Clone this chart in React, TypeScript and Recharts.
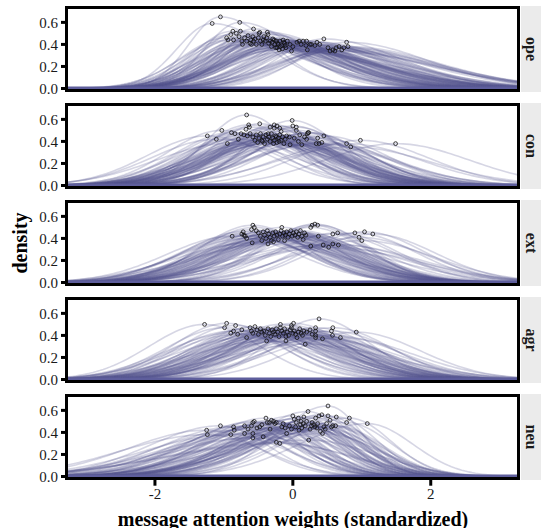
import { ComposedChart, Line, Scatter, XAxis, YAxis, ReferenceLine } from "recharts";

// one panel per trait, peaks of each density curve (mode, density at mode)
const traits = ["ope", "con", "ext", "agr", "neu"];

const opePeaks = [
  [-1.05, 0.65], [-1.17, 0.59], [-0.77, 0.6], [-0.57, 0.54], [-0.87, 0.52], [-0.9, 0.49],
  [-0.96, 0.46], [-0.94, 0.44], [-0.86, 0.44], [-0.82, 0.5], [-0.78, 0.47], [-0.76, 0.52],
  [-0.74, 0.43], [-0.73, 0.4], [-0.7, 0.46], [-0.67, 0.43], [-0.65, 0.48], [-0.61, 0.44],
  [-0.6, 0.4], [-0.57, 0.43], [-0.55, 0.45], [-0.53, 0.4], [-0.5, 0.46], [-0.49, 0.5],
  [-0.48, 0.51], [-0.47, 0.43], [-0.45, 0.4], [-0.43, 0.44], [-0.4, 0.43], [-0.38, 0.46],
  [-0.37, 0.51], [-0.36, 0.49], [-0.33, 0.43], [-0.31, 0.38], [-0.29, 0.45], [-0.26, 0.4],
  [-0.24, 0.43], [-0.23, 0.37], [-0.21, 0.4], [-0.2, 0.35], [-0.19, 0.43], [-0.16, 0.39],
  [-0.14, 0.44], [-0.12, 0.41], [-0.1, 0.37], [-0.08, 0.43], [-0.04, 0.4], [-0.02, 0.34],
  [0.0, 0.38], [0.06, 0.42], [0.09, 0.43], [0.12, 0.4], [0.15, 0.43], [0.19, 0.39],
  [0.21, 0.35], [0.25, 0.4], [0.27, 0.4], [0.32, 0.39], [0.39, 0.4], [0.45, 0.45],
  [0.51, 0.37], [0.54, 0.34], [0.58, 0.35], [0.61, 0.34], [0.63, 0.37], [0.67, 0.38],
  [0.71, 0.35], [0.74, 0.37], [0.78, 0.42], [0.8, 0.38], [-0.3, 0.42], [-0.27, 0.44],
  [-0.22, 0.41], [-0.18, 0.38], [-0.15, 0.36], [-0.11, 0.39], [-0.35, 0.41], [-0.42, 0.47],
  [-0.58, 0.47], [-0.62, 0.41], [-0.13, 0.42], [-0.25, 0.37], [0.2, 0.43], [0.35, 0.42],
];

const conPeaks = [
  [-0.67, 0.64], [-1.24, 0.45], [-1.11, 0.42], [-1.03, 0.5], [-0.95, 0.38], [-0.89, 0.48],
  [-0.84, 0.47], [-0.79, 0.42], [-0.75, 0.47], [-0.71, 0.46], [-0.68, 0.51], [-0.66, 0.45],
  [-0.64, 0.55], [-0.63, 0.53], [-0.62, 0.47], [-0.48, 0.56], [-0.58, 0.44], [-0.55, 0.41],
  [-0.53, 0.46], [-0.51, 0.39], [-0.49, 0.43], [-0.47, 0.47], [-0.45, 0.41], [-0.43, 0.44],
  [-0.41, 0.38], [-0.39, 0.46], [-0.37, 0.42], [-0.35, 0.44], [-0.33, 0.4], [-0.31, 0.47],
  [-0.29, 0.43], [-0.27, 0.41], [-0.25, 0.45], [-0.23, 0.39], [-0.21, 0.43], [-0.19, 0.46],
  [-0.17, 0.41], [-0.15, 0.44], [-0.13, 0.38], [-0.11, 0.42], [-0.09, 0.45], [-0.44, 0.4],
  [-0.36, 0.47], [-0.28, 0.38], [-0.2, 0.4], [-0.24, 0.44], [-0.33, 0.53], [-0.27, 0.55],
  [-0.27, 0.52], [-0.23, 0.54], [-0.19, 0.52], [-0.17, 0.49], [-0.01, 0.59], [0.0, 0.54],
  [0.05, 0.53], [0.05, 0.5], [-0.04, 0.37], [0.08, 0.4], [0.13, 0.37], [0.17, 0.44],
  [0.2, 0.42], [0.22, 0.48], [0.23, 0.48], [0.21, 0.47], [0.36, 0.43], [0.45, 0.45],
  [0.34, 0.38], [0.38, 0.38], [0.42, 0.39], [0.78, 0.38], [0.84, 0.35], [0.98, 0.41],
  [1.49, 0.38], [-0.05, 0.44], [0.02, 0.43], [0.1, 0.46],
];

const extPeaks = [
  [-0.88, 0.42], [-0.74, 0.44], [-0.72, 0.46], [-0.69, 0.42], [-0.67, 0.4], [-0.71, 0.43],
  [-0.58, 0.52], [-0.56, 0.5], [-0.6, 0.48], [-0.53, 0.47], [-0.59, 0.36], [-0.36, 0.35],
  [-0.16, 0.5], [-0.5, 0.45], [-0.47, 0.42], [-0.45, 0.38], [-0.43, 0.46], [-0.41, 0.43],
  [-0.39, 0.4], [-0.37, 0.47], [-0.35, 0.44], [-0.33, 0.41], [-0.31, 0.38], [-0.29, 0.45],
  [-0.27, 0.42], [-0.25, 0.46], [-0.23, 0.43], [-0.21, 0.39], [-0.19, 0.44], [-0.17, 0.47],
  [-0.15, 0.42], [-0.13, 0.45], [-0.11, 0.43], [-0.09, 0.46], [-0.07, 0.41], [-0.05, 0.44],
  [-0.03, 0.47], [-0.01, 0.42], [0.01, 0.45], [0.03, 0.43], [0.05, 0.46], [0.07, 0.41],
  [0.09, 0.44], [0.11, 0.47], [0.13, 0.42], [0.15, 0.39], [0.17, 0.45], [0.19, 0.43],
  [-0.28, 0.37], [-0.12, 0.38], [0.26, 0.5], [0.28, 0.52], [0.32, 0.53], [0.36, 0.52],
  [0.26, 0.33], [0.37, 0.42], [0.44, 0.34], [0.52, 0.32], [0.58, 0.35], [0.66, 0.34],
  [0.58, 0.44], [0.65, 0.45], [0.9, 0.45], [1.04, 0.46], [1.16, 0.44], [0.96, 0.41],
  [1.0, 0.38],
];

const agrPeaks = [
  [-1.28, 0.5], [-0.96, 0.51], [-0.99, 0.47], [-0.9, 0.42], [-0.86, 0.44], [-0.8, 0.41],
  [-0.83, 0.49], [-0.74, 0.45], [-0.67, 0.38], [-0.62, 0.47], [-0.6, 0.44], [-0.58, 0.42],
  [-0.55, 0.48], [-0.52, 0.45], [-0.5, 0.41], [-0.47, 0.46], [-0.45, 0.43], [-0.38, 0.35],
  [-0.42, 0.44], [-0.4, 0.4], [-0.36, 0.46], [-0.34, 0.42], [-0.32, 0.39], [-0.3, 0.45],
  [-0.28, 0.43], [-0.26, 0.41], [-0.24, 0.46], [-0.22, 0.43], [-0.2, 0.39], [-0.16, 0.44],
  [-0.14, 0.42], [-0.12, 0.46], [-0.08, 0.43], [-0.06, 0.4], [-0.04, 0.45], [-0.02, 0.47],
  [0.02, 0.44], [0.04, 0.41], [0.06, 0.38], [0.08, 0.43], [0.1, 0.46], [0.12, 0.42],
  [0.14, 0.4], [0.16, 0.44], [0.2, 0.43], [-0.18, 0.47], [-0.1, 0.39], [0.0, 0.42],
  [-0.18, 0.5], [0.01, 0.51], [-0.02, 0.49], [-0.1, 0.35], [0.18, 0.32], [0.33, 0.47],
  [0.33, 0.44], [0.33, 0.4], [0.33, 0.38], [0.38, 0.55], [0.43, 0.37], [0.56, 0.44],
  [0.58, 0.47], [0.575, 0.4], [0.69, 0.38], [0.92, 0.43], [0.25, 0.45], [0.28, 0.41],
];

const neuPeaks = [
  [-1.25, 0.42], [-1.24, 0.38], [-1.05, 0.46], [-0.9, 0.38], [-0.86, 0.45], [-0.85, 0.42],
  [-0.7, 0.46], [-0.7, 0.39], [-0.6, 0.46], [-0.58, 0.49], [-0.56, 0.5], [-0.58, 0.39],
  [-0.58, 0.35], [-0.48, 0.45], [-0.43, 0.36], [-0.39, 0.53], [-0.37, 0.49], [-0.34, 0.49],
  [-0.33, 0.43], [-0.31, 0.51], [-0.28, 0.5], [-0.26, 0.48], [-0.24, 0.49], [-0.24, 0.31],
  [-0.19, 0.3], [-0.14, 0.48], [-0.11, 0.44], [-0.09, 0.39], [0.0, 0.55], [0.02, 0.52],
  [0.08, 0.53], [0.05, 0.49], [0.11, 0.47], [0.09, 0.42], [0.16, 0.54], [0.2, 0.5],
  [0.22, 0.59], [0.23, 0.33], [0.27, 0.46], [0.3, 0.47], [0.33, 0.53], [0.38, 0.55],
  [0.42, 0.56], [0.4, 0.41], [0.43, 0.39], [0.51, 0.64], [0.51, 0.55], [0.54, 0.51],
  [0.49, 0.48], [0.56, 0.45], [0.58, 0.46], [0.62, 0.46], [0.63, 0.54], [0.78, 0.49],
  [0.82, 0.53], [1.08, 0.48], [-0.05, 0.46], [-0.02, 0.43], [0.04, 0.45], [0.13, 0.44],
  [0.15, 0.48], [0.18, 0.46], [0.25, 0.43], [0.32, 0.45], [0.35, 0.44], [0.36, 0.48],
  [0.45, 0.45], [0.47, 0.43], [0.12, 0.5], [-0.16, 0.45], [0.28, 0.49], [-0.45, 0.47],
  [-0.52, 0.44], [-0.65, 0.43],
];

const peaksByTrait = [opePeaks, conPeaks, extPeaks, agrPeaks, neuPeaks];

// share of each curve's spread that lies left / right of its mode
const skewByTrait = [
  [0.38, 0.62],
  [0.49, 0.51],
  [0.5, 0.5],
  [0.5, 0.5],
  [0.6, 0.4],
];

const xTicks = [-2, 0, 2];
const yTicks = [0, 0.2, 0.4, 0.6];

const X_MIN = -3.29;
const X_MAX = 3.28;
const LINE_COLOR = "#55558f";
const FONT = "'Liberation Serif', 'Times New Roman', serif";
const PANEL_STEP = 97;

const xGrid: number[] = [];
for (let i = 0; i <= 132; i++) xGrid.push(-3.3 + i * 0.05);

function buildRows(peaks: number[][], skew: number[]) {
  return xGrid.map((x) => {
    const row: Record<string, number> = { x };
    peaks.forEach(([mode, top], i) => {
      const spread = 2 / (top * Math.sqrt(2 * Math.PI));
      const sd = x < mode ? spread * skew[0] : spread * skew[1];
      row["c" + i] = top * Math.exp(-0.5 * ((x - mode) / sd) ** 2);
    });
    return row;
  });
}

const dot = (props: any) => (
  <circle cx={props.cx} cy={props.cy} r={1.9} fill="none" stroke="#111" strokeWidth={0.8} />
);

function Panel({ idx }: { idx: number }) {
  const peaks = peaksByTrait[idx];
  const rows = buildRows(peaks, skewByTrait[idx]);
  const points = peaks.map(([x, y]) => ({ x, y }));
  const last = idx === traits.length - 1;
  const top = idx * PANEL_STEP;
  return (
    <>
      <div style={{ position: "absolute", left: 0, top }}>
        <ComposedChart
          width={521}
          height={last ? 127 : 97}
          data={rows}
          margin={{ top: 7.5, right: 2, bottom: 6.3, left: 0 }}
        >
          <XAxis
            dataKey="x"
            type="number"
            domain={[X_MIN, X_MAX]}
            allowDataOverflow
            ticks={xTicks}
            hide={!last}
            height={30}
            axisLine={false}
            tickLine={{ stroke: "#000", strokeWidth: 3 }}
            tickSize={7}
            tickMargin={3}
            tick={{ fill: "#1a1a1a", fontSize: 15, fontFamily: FONT }}
          />
          <YAxis
            type="number"
            domain={[-0.02, 0.735]}
            allowDataOverflow
            ticks={yTicks}
            tickFormatter={(v: number) => v.toFixed(1)}
            width={66}
            axisLine={false}
            tickLine={{ stroke: "#000", strokeWidth: 3 }}
            tickSize={5}
            tickMargin={3}
            tick={{ fill: "#1a1a1a", fontSize: 15, fontFamily: FONT }}
          />
          {peaks.map((_, i) => (
            <Line
              key={i}
              dataKey={"c" + i}
              type="linear"
              stroke={LINE_COLOR}
              strokeOpacity={0.24}
              strokeWidth={1.6}
              dot={false}
              activeDot={false}
              isAnimationActive={false}
            />
          ))}
          <ReferenceLine y={0} stroke="#5e5e9c" strokeWidth={4} />
          <Scatter data={points} dataKey="y" shape={dot} isAnimationActive={false} />
        </ComposedChart>
      </div>
      <div
        style={{
          position: "absolute",
          left: 65,
          top: top + 6,
          width: 455,
          height: 86,
          border: "3px solid #000",
          boxSizing: "border-box",
        }}
      />
      <div
        style={{
          position: "absolute",
          left: 521,
          top: top + 6,
          width: 20,
          height: 86,
          background: "#ebebeb",
          display: "flex",
          alignItems: "center",
          justifyContent: "center",
        }}
      >
        <span
          style={{
            transform: "rotate(90deg)",
            fontFamily: FONT,
            fontWeight: "bold",
            fontSize: 16,
            color: "#1a1a1a",
            whiteSpace: "nowrap",
          }}
        >
          {traits[idx]}
        </span>
      </div>
    </>
  );
}

export default function App() {
  return (
    <div
      style={{
        position: "absolute",
        left: 0,
        top: 0,
        width: 541,
        height: 528,
        background: "#fff",
        overflow: "hidden",
      }}
    >
      {traits.map((_, i) => (
        <Panel key={i} idx={i} />
      ))}
      <div
        style={{
          position: "absolute",
          left: 20,
          top: 243,
          transform: "translate(-50%, -50%) rotate(-90deg)",
          fontFamily: FONT,
          fontWeight: "bold",
          fontSize: 20,
          color: "#000",
          whiteSpace: "nowrap",
        }}
      >
        density
      </div>
      <div
        style={{
          position: "absolute",
          left: 293,
          top: 519,
          transform: "translate(-50%, -50%)",
          fontFamily: FONT,
          fontWeight: "bold",
          fontSize: 20,
          color: "#000",
          whiteSpace: "nowrap",
        }}
      >
        message attention weights (standardized)
      </div>
    </div>
  );
}
